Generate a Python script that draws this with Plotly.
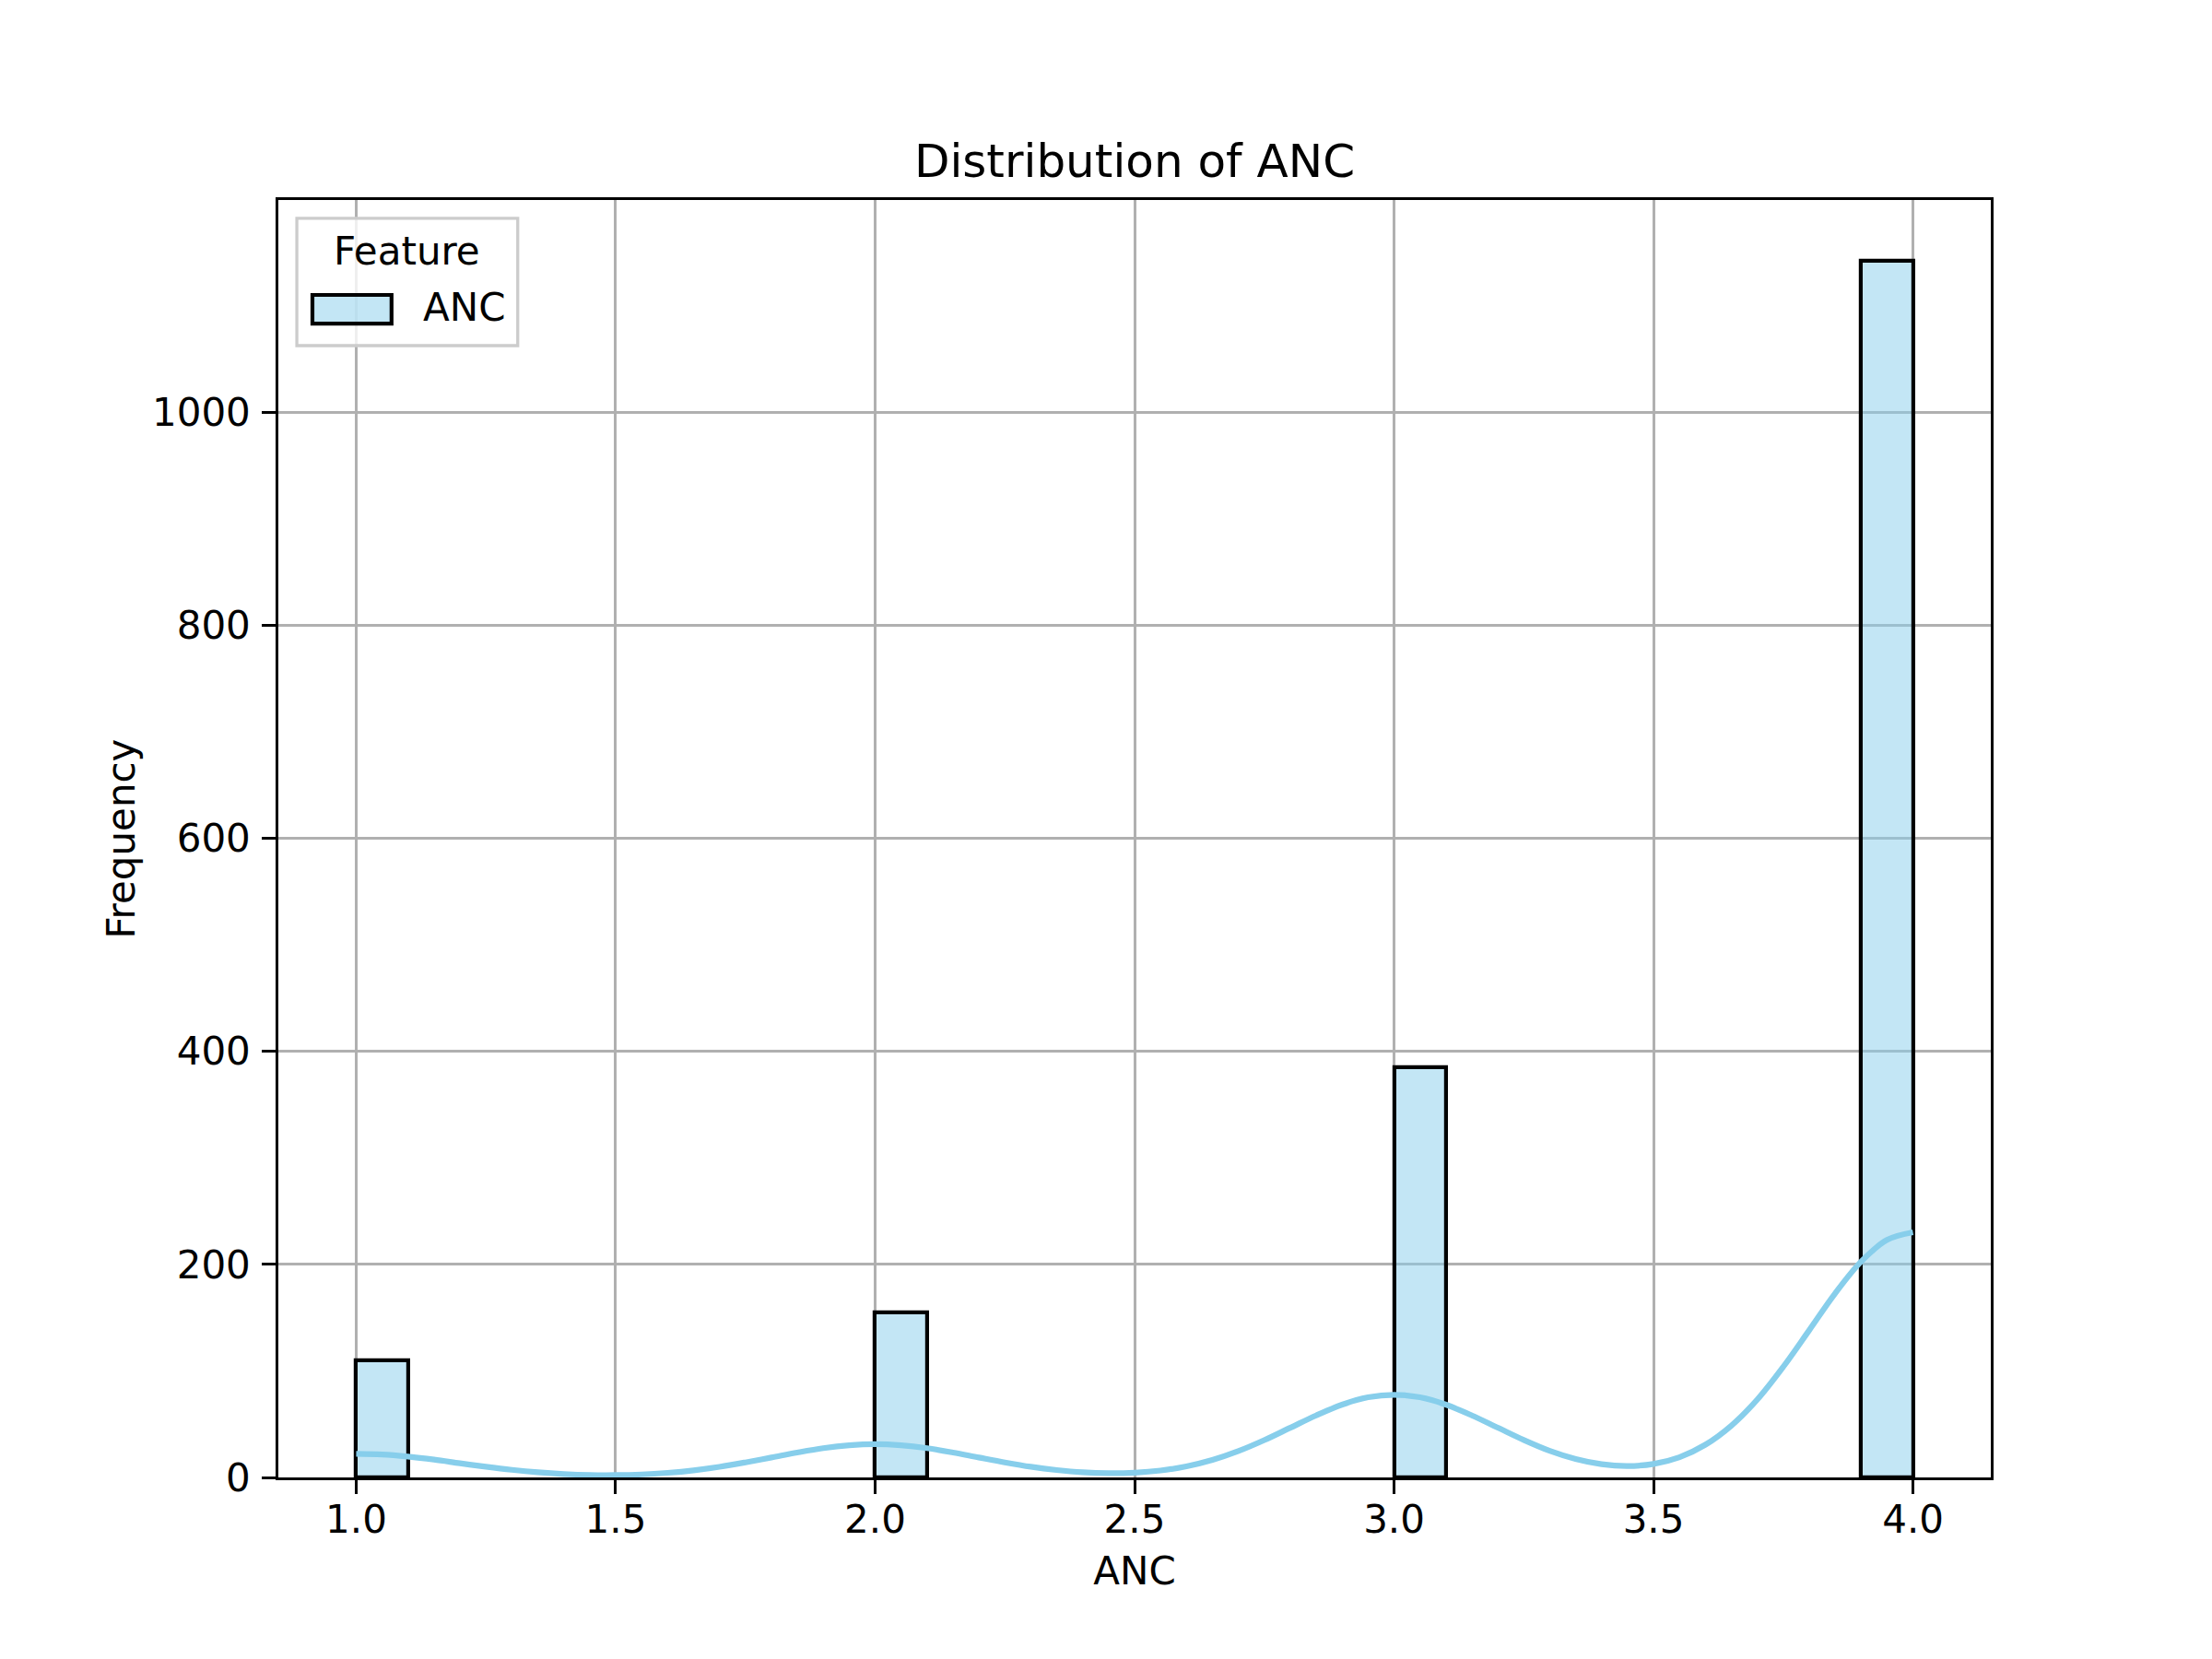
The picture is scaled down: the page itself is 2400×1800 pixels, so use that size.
import plotly.graph_objects as go

# histogram of ANC (30 bins between 1 and 4, only the non-empty ones)
bin_left = [1.0, 2.0, 3.0, 3.9]
bin_width = 0.1
counts = [110, 155, 385, 1142]

# kde curve (scaled to counts), every 0.05
kde_x = [1.0, 1.05, 1.1, 1.15, 1.2, 1.25, 1.3, 1.35, 1.4, 1.45,
         1.5, 1.55, 1.6, 1.65, 1.7, 1.75, 1.8, 1.85, 1.9, 1.95,
         2.0, 2.05, 2.1, 2.15, 2.2, 2.25, 2.3, 2.35, 2.4, 2.45,
         2.5, 2.55, 2.6, 2.65, 2.7, 2.75, 2.8, 2.85, 2.9, 2.95,
         3.0, 3.05, 3.1, 3.15, 3.2, 3.25, 3.3, 3.35, 3.4, 3.45,
         3.5, 3.55, 3.6, 3.65, 3.7, 3.75, 3.8, 3.85, 3.9, 3.95, 4.0]
kde_y = [22.2, 21.5, 19.5, 16.7, 13.3, 10.0, 7.1, 4.8, 3.2, 2.3,
         2.2, 2.8, 4.3, 6.6, 9.9, 14.1, 18.7, 23.4, 27.5, 30.2,
         31.2, 30.2, 27.5, 23.4, 18.7, 14.1, 10.0, 6.9, 4.8, 4.0,
         4.5, 6.5, 10.4, 16.4, 24.7, 35.0, 46.6, 58.2, 68.3, 75.2,
         77.6, 75.2, 68.3, 58.2, 46.7, 35.2, 25.0, 17.3, 12.4, 10.7,
         12.7, 19.0, 30.7, 48.6, 73.1, 103.8, 138.1, 172.7, 202.5, 222.9, 230.1]

x_ticks = [1.0, 1.5, 2.0, 2.5, 3.0, 3.5, 4.0]
y_ticks = [0, 200, 400, 600, 800, 1000]

bar_fill = "rgba(135,206,235,0.5)"

fig = go.Figure()
fig.add_trace(go.Bar(
    x=bin_left,
    y=counts,
    width=bin_width,
    offset=0,
    name="ANC",
    marker=dict(color=bar_fill, line=dict(color="black", width=4.2)),
    showlegend=False,
))
fig.add_trace(go.Scatter(
    x=kde_x,
    y=kde_y,
    mode="lines",
    line=dict(color="#87ceeb", width=6.2, shape="spline"),
    showlegend=False,
))

# matplotlib-style legend box in the upper left corner
fig.add_shape(type="rect", xref="paper", yref="paper",
              x0=0.0108, x1=0.1398, y0=0.886, y1=0.9856,
              fillcolor="rgba(255,255,255,0.8)",
              line=dict(color="#cccccc", width=3.3), layer="above")
fig.add_shape(type="rect", xref="paper", yref="paper",
              x0=0.0199, x1=0.0661, y0=0.9033, y1=0.9257,
              fillcolor=bar_fill,
              line=dict(color="black", width=4.2), layer="above")
fig.add_annotation(text="Feature", xref="paper", yref="paper",
                   x=0.0753, y=0.9596, xanchor="center", yanchor="middle",
                   showarrow=False, font=dict(size=42, color="black"))
fig.add_annotation(text="ANC", xref="paper", yref="paper",
                   x=0.0833, y=0.9156, xanchor="left", yanchor="middle",
                   showarrow=False, font=dict(size=42, color="black"))

axis_common = dict(
    showline=True,
    mirror=True,
    linecolor="black",
    linewidth=3.3,
    showgrid=True,
    gridcolor="#b0b0b0",
    gridwidth=3.3,
    zeroline=False,
    ticks="outside",
    ticklen=14.6,
    tickwidth=3.3,
    tickcolor="black",
    tickfont=dict(size=42, color="black"),
)

fig.update_layout(
    width=2400,
    height=1800,
    # the page adds a small body margin, so the plot area is pulled back by that
    margin=dict(l=294, r=248, t=209, b=205),
    paper_bgcolor="white",
    plot_bgcolor="white",
    font=dict(family="DejaVu Sans", color="black"),
    title=dict(
        text="Distribution of ANC",
        x=0.5,
        xanchor="center",
        xref="paper",
        y=1 - 166 / 1800,
        yref="container",
        yanchor="middle",
        font=dict(size=50),
    ),
    showlegend=False,
    bargap=0,
)
fig.update_xaxes(
    axis_common,
    range=[0.85, 4.15],
    tickvals=x_ticks,
    tickformat=".1f",
    ticklabelstandoff=-8,
    title=dict(text="ANC", font=dict(size=42), standoff=18),
)
fig.update_yaxes(
    axis_common,
    range=[0, 1199],
    tickvals=y_ticks,
    ticklabelstandoff=4,
    title=dict(text="Frequency", font=dict(size=42), standoff=6),
)

fig.write_html("out.html")
